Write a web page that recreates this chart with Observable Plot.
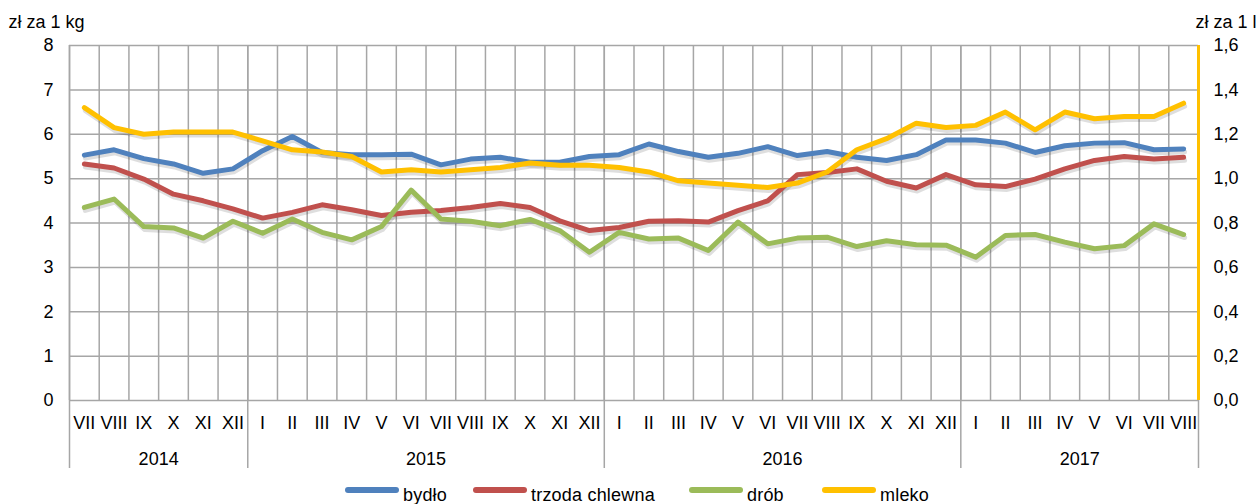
<!DOCTYPE html>
<html><head><meta charset="utf-8">
<script src="https://cdn.jsdelivr.net/npm/d3@7"></script>
<script src="https://cdn.jsdelivr.net/npm/@observablehq/plot@0.6"></script>
<style>
body{margin:0;background:#fff;font-family:"Liberation Sans",Arial,sans-serif;}
#wrap{position:relative;width:1258px;height:504px;overflow:hidden;}
#legend{position:relative;width:1258px;height:26px;}
.item{position:absolute;top:0;height:26px;display:flex;align-items:center;font-size:18px;color:#000;}
.sw{width:54px;height:6px;border-radius:3px;margin-right:4px;margin-top:-2px;}
.lb{margin-top:9px;letter-spacing:0.2px;}
</style></head><body>
<div id="wrap"><div id="chart"></div><div id="legend"></div></div>
<script>
const months = ["VII","VIII","IX","X","XI","XII",
  "I","II","III","IV","V","VI","VII","VIII","IX","X","XI","XII",
  "I","II","III","IV","V","VI","VII","VIII","IX","X","XI","XII",
  "I","II","III","IV","V","VI","VII","VIII"];
const years = ["2014","2015","2016","2017"];
const yearCounts = [6,12,12,8];
const leftTicks = [0,1,2,3,4,5,6,7,8];
const rightTicks = [0,0.2,0.4,0.6,0.8,1.0,1.2,1.4,1.6];
const seriesNames = ["bydło","trzoda chlewna","drób","mleko"];
const seriesColors = ["#4F81BD","#C0504D","#9BBB59","#FFC000"];

const bydlo = [5.53,5.65,5.45,5.33,5.12,5.22,
  5.63,5.95,5.59,5.54,5.54,5.55,5.31,5.44,5.48,5.37,5.37,5.50,
  5.54,5.78,5.61,5.48,5.57,5.72,5.52,5.61,5.48,5.41,5.54,5.87,
  5.87,5.80,5.59,5.74,5.80,5.81,5.65,5.67];
const trzoda = [5.33,5.24,4.99,4.65,4.50,4.32,
  4.11,4.24,4.41,4.30,4.17,4.24,4.28,4.35,4.44,4.35,4.05,3.83,
  3.90,4.04,4.05,4.02,4.28,4.50,5.09,5.14,5.22,4.94,4.79,5.09,
  4.86,4.82,4.99,5.22,5.41,5.50,5.44,5.48];
const drob = [4.35,4.54,3.92,3.89,3.66,4.04,
  3.77,4.09,3.79,3.62,3.92,4.74,4.09,4.04,3.94,4.08,3.83,3.34,
  3.79,3.64,3.66,3.38,4.02,3.53,3.66,3.68,3.47,3.60,3.51,3.50,
  3.23,3.72,3.74,3.57,3.42,3.49,3.98,3.74];
const mleko = [1.32,1.23,1.20,1.21,1.21,1.21,
  1.17,1.13,1.12,1.10,1.03,1.04,1.03,1.04,1.05,1.07,1.06,1.06,
  1.05,1.03,0.99,0.98,0.97,0.96,0.98,1.03,1.13,1.18,1.25,1.23,
  1.24,1.30,1.22,1.30,1.27,1.28,1.28,1.34];

const ratio = leftTicks[leftTicks.length-1] / rightTicks[rightTicks.length-1];
const n = months.length;
const seriesValues = [bydlo, trzoda, drob, mleko.map(v => v * ratio)];
const rows = [];
seriesValues.forEach((vals, s) => vals.forEach((v, i) => rows.push({s: seriesNames[s], i, v})));

const bounds = d3.range(n + 1).map(k => k - 0.5);
let acc = 0;
const yearBounds = [-0.5];
const yearCenters = [];
yearCounts.forEach(c => { yearCenters.push(acc - 0.5 + c / 2); acc += c; yearBounds.push(acc - 0.5); });

const font = "Liberation Sans, Arial, sans-serif";
const grid = "#A6A6A6";
const fs = 18;
const fmt = d => d.toFixed(1).replace(".", ",");

const chart = Plot.plot({
  width: 1258, height: 478,
  marginLeft: 69, marginRight: 60, marginTop: 45, marginBottom: 78,
  style: {fontFamily: font, fontSize: fs + "px", color: "#000", background: "#fff"},
  x: {type: "linear", domain: [-0.5, n - 0.5], axis: null},
  y: {domain: [0, 8], axis: null},
  color: {domain: seriesNames, range: seriesColors},
  marks: [
    Plot.ruleY(leftTicks, {stroke: grid, strokeWidth: 1.5}),
    Plot.ruleX(bounds, {y1: 0, y2: 8, stroke: grid, strokeWidth: 1.5}),
    Plot.ruleX(yearBounds, {stroke: grid, strokeWidth: 1.5, insetBottom: -68}),
    Plot.ruleX([yearBounds[yearBounds.length - 1]], {y1: 0, y2: 8, stroke: "#FFC000", strokeWidth: 3}),
    Plot.axisY(leftTicks, {anchor: "left", tickSize: 0, tickPadding: 16, label: null, fontSize: fs}),
    Plot.axisY(leftTicks, {anchor: "right", tickSize: 0, tickPadding: 15, label: null, fontSize: fs,
      tickFormat: (d, k) => fmt(rightTicks[k])}),
    Plot.text(months, {x: (d, i) => i, text: d => d, frameAnchor: "bottom", dy: 28, lineAnchor: "bottom", fontSize: fs}),
    Plot.text(years, {x: (d, i) => yearCenters[i], text: d => d, frameAnchor: "bottom", dy: 64, lineAnchor: "bottom", fontSize: fs}),
    Plot.text(["zł za 1 kg"], {frameAnchor: "top-left", dx: -61, dy: -18, textAnchor: "start", lineAnchor: "bottom", fontSize: fs}),
    Plot.text(["zł za 1 l"], {frameAnchor: "top-right", dx: -3, dy: -18, textAnchor: "start", lineAnchor: "bottom", fontSize: fs}),
    Plot.line(rows, {x: "i", y: "v", z: "s", stroke: "#000", strokeOpacity: 0.13, strokeWidth: 5, dx: 1, dy: 3, curve: "linear", strokeLinejoin: "round", strokeLinecap: "round"}),
    Plot.line(rows, {x: "i", y: "v", z: "s", stroke: "s", strokeWidth: 5, curve: "linear", strokeLinejoin: "round", strokeLinecap: "round"})
  ]
});
document.getElementById("chart").appendChild(chart);

const legendPos = [345, 473, 689, 822];
const legend = document.getElementById("legend");
seriesNames.forEach((name, k) => {
  const it = document.createElement("div");
  it.className = "item";
  it.style.left = legendPos[k] + "px";
  it.innerHTML = `<div class="sw" style="background:${seriesColors[k]}"></div><span class="lb">${name}</span>`;
  legend.appendChild(it);
});
</script>
</body></html>
